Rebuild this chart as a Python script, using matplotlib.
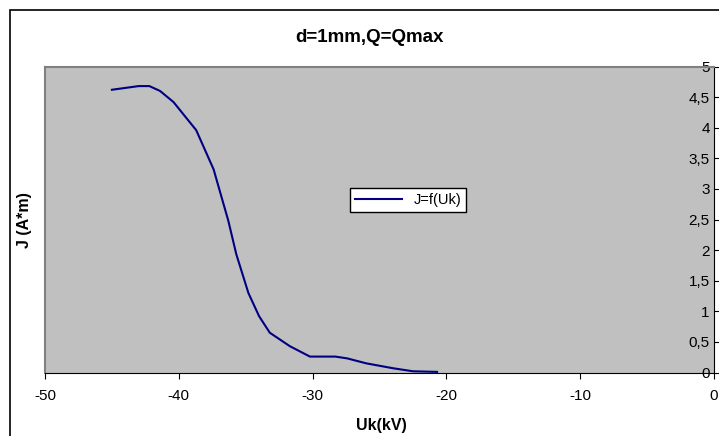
import matplotlib
matplotlib.use("Agg")
import matplotlib.pyplot as plt
from matplotlib.patches import Rectangle
from matplotlib.ticker import FuncFormatter, MultipleLocator

plt.rcParams['font.family'] = ['Liberation Sans', 'DejaVu Sans']
plt.rcParams['axes.unicode_minus'] = False

# data
uk = [-45, -43, -42.2, -41.4, -40.4, -38.7, -37.4, -36.3, -35.7, -34.8,
      -34.0, -33.2, -31.7, -30.2, -28.3, -27.4, -26.0, -24.0, -22.5, -20.7]
j = [4.62, 4.68, 4.68, 4.60, 4.42, 3.96, 3.32, 2.48, 1.93, 1.30,
     0.92, 0.65, 0.43, 0.26, 0.26, 0.23, 0.15, 0.07, 0.02, 0.01]

title = "d=1mm,Q=Qmax"
xlabel = "Uk(kV)"
ylabel = "J (A*m)"
series_name = "J=f(Uk)"

fig = plt.figure(figsize=(7.19, 4.36), dpi=100)
ax = fig.add_axes([45 / 719, 1 - 372.5 / 436, 669 / 719, 306 / 436])
ax.set_facecolor('#c0c0c0')

# outer chart border (cut off on the right and bottom)
fig.patches.append(Rectangle((10 / 719, -0.1), 1.2, 1 - 10 / 436 + 0.1,
                             transform=fig.transFigure, fill=False,
                             edgecolor='black', linewidth=1.2))

ax.plot(uk, j, color='#000080', linewidth=1.5, label=series_name)

ax.set_xlim(-50, 0)
ax.set_ylim(0, 5)
ax.xaxis.set_major_locator(MultipleLocator(10))
ax.yaxis.set_major_locator(MultipleLocator(0.5))
ax.yaxis.set_major_formatter(FuncFormatter(lambda v, p: ('%g' % v).replace('.', ',')))

for s in ['left', 'top']:
    ax.spines[s].set_color('#808080')
    ax.spines[s].set_linewidth(1.5)
ax.spines['bottom'].set_color('black')
ax.spines['right'].set_color('black')

ax.yaxis.tick_right()
ax.tick_params(axis='x', direction='out', length=4, labelsize=11, pad=8)
ax.tick_params(axis='y', direction='out', length=4, labelsize=11, pad=-7)
for lab in ax.get_yticklabels():
    lab.set_horizontalalignment('right')

fig.text(369 / 719, 1 - 37 / 436, title, fontsize=13.5, fontweight='bold',
         ha='center', va='center')
fig.text(381 / 719, 1 - 425 / 436, xlabel, fontsize=11.5, fontweight='bold',
         ha='center', va='center')
fig.text(25 / 719, 1 - 220 / 436, ylabel, rotation=90, fontsize=11.5,
         fontweight='bold', ha='center', va='center')

leg = ax.legend(loc='center', bbox_to_anchor=(0.543, 0.564), fontsize=10.5,
                fancybox=False, framealpha=1, edgecolor='black',
                handlelength=3.2, borderpad=0.35)
leg.get_frame().set_linewidth(1.0)

fig.savefig('out.png', dpi=100)
